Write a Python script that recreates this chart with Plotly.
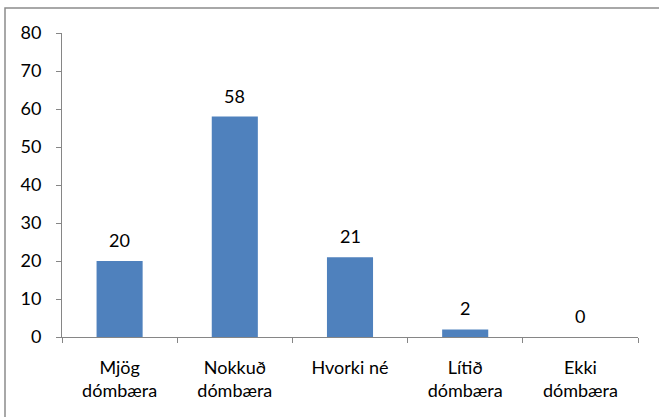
import plotly.graph_objects as go

categories = ["Mjög<br>dómbæra", "Nokkuð<br>dómbæra", "Hvorki né<br> ", "Lítið<br>dómbæra", "Ekki<br>dómbæra"]
values = [20, 58, 21, 2, 0]
y_ticks = [0, 10, 20, 30, 40, 50, 60, 70, 80]

font_family = "Lato, 'Open Sans', sans-serif"
fs = 18

fig = go.Figure(go.Bar(
    x=categories,
    y=values,
    marker=dict(color="#4F81BD", line=dict(width=0)),
    width=0.4,
    textposition="none",
    hoverinfo="skip",
))

for c, v in zip(categories, values):
    fig.add_annotation(
        x=c, y=v, text=str(v), showarrow=False,
        yanchor="bottom", yshift=8,
        font=dict(size=fs, color="#000000", family=font_family),
    )

W, H = 659, 417
l, r, t, b = 62, 21, 33, 80
pw, ph = W - l - r, H - t - b

fig.add_shape(
    type="rect", xref="paper", yref="paper",
    x0=(5 - l) / pw, x1=(680 - l) / pw,
    y0=(H - b - 440) / ph, y1=(H - b - 8) / ph,
    line=dict(color="#8C8C8C", width=1.5), fillcolor="rgba(0,0,0,0)", layer="below",
)

fig.update_layout(
    width=W, height=H,
    margin=dict(l=l, r=r, t=t, b=b),
    paper_bgcolor="white", plot_bgcolor="white",
    showlegend=False,
    font=dict(family=font_family, size=fs, color="#000000"),
    xaxis=dict(
        type="category",
        showline=True, linecolor="#868686", linewidth=1,
        ticks="outside", tickson="boundaries", ticklen=5, tickcolor="#868686",
        showgrid=False,
        tickfont=dict(size=fs, family=font_family),
        ticklabelstandoff=14,
    ),
    yaxis=dict(
        range=[0, 80], tickvals=y_ticks,
        showline=True, linecolor="#868686", linewidth=1,
        ticks="outside", ticklen=5, tickcolor="#868686",
        showgrid=False, zeroline=False,
        tickfont=dict(size=fs, family=font_family),
        ticklabelstandoff=11,
    ),
)

fig.write_html(
    "out.html",
    config={"displayModeBar": False, "staticPlot": True},
    post_script="document.body.style.margin='0';document.body.style.overflow='hidden';",
)
